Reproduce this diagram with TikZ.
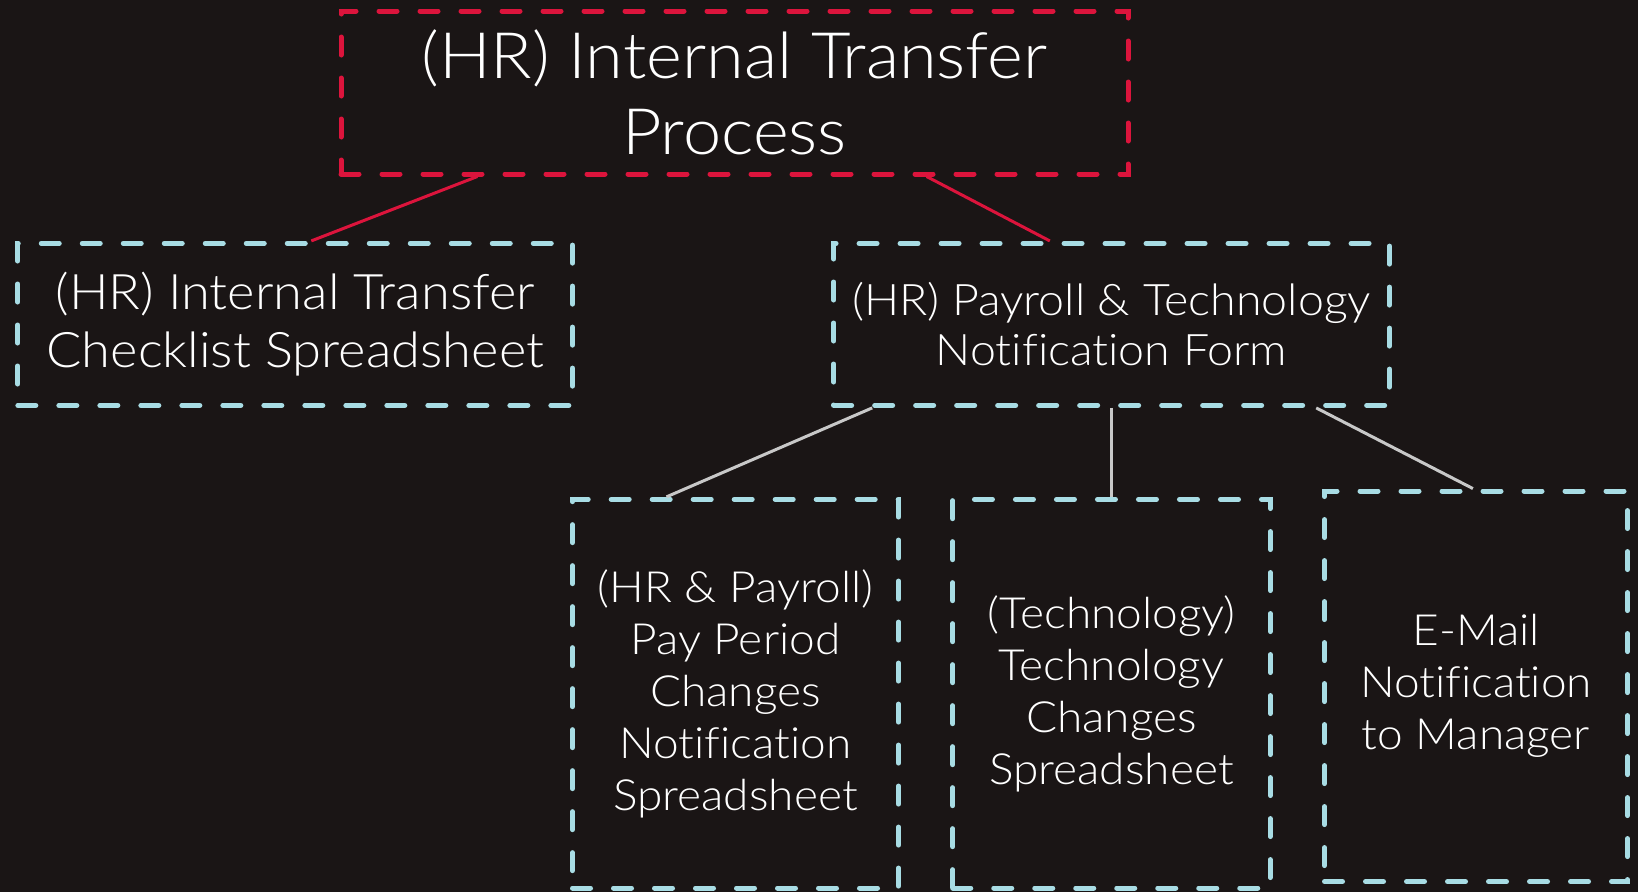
\documentclass[tikz,border=0pt]{standalone}
\usepackage{fontspec}
\setmainfont{Lato Light}[FakeStretch=1.07,Ligatures=NoCommon]
\definecolor{bgc}{RGB}{26,21,21}
\definecolor{redc}{RGB}{220,20,60}
\definecolor{cyanc}{RGB}{168,220,228}
\definecolor{grayc}{RGB}{200,200,200}
\begin{document}
\begin{tikzpicture}[x=1pt,y=-1pt,
  box/.style={draw, line width=5pt, dash pattern=on 18pt off 23pt, line cap=round, text=white, align=center, inner sep=0pt},
  topbox/.style={box, draw=redc, font=\fontsize{64}{76}\selectfont},
  midbox/.style={box, draw=cyanc},
  lowbox/.style={box, draw=cyanc, font=\fontsize{43}{52}\selectfont},
  redlink/.style={draw=redc, line width=3pt},
  graylink/.style={draw=grayc, line width=3pt}]
\fill[bgc] (0,0) rectangle (1638,892);
\useasboundingbox (0,0) rectangle (1638,892);
\node[topbox, minimum width=787pt, minimum height=163pt] (top) at (734.5,92.5) {(HR) Internal Transfer\\Process};
\node[midbox, font=\fontsize{49}{58}\selectfont, minimum width=554.7pt, minimum height=162pt] (left) at (295.2,324.4) {(HR) Internal Transfer\\Checklist Spreadsheet};
\node[midbox, font=\fontsize{43.5}{50}\selectfont, minimum width=555.7pt, minimum height=162pt] (right) at (1111.5,324.4) {(HR) Payroll \& Technology\\Notification Form};
\node[lowbox, minimum width=326pt, minimum height=388.7pt] (pay) at (735.5,693.7) {(HR \& Payroll)\\Pay Period\\Changes\\Notification\\Spreadsheet};
\node[lowbox, minimum width=317.5pt, minimum height=388.7pt] (tech) at (1111.5,693.7) {(Technology)\\Technology\\Changes\\Spreadsheet};
\node[lowbox, minimum width=303pt, minimum height=390.5pt] (mail) at (1476,686.3) {E-Mail\\Notification\\to Manager};
\draw[redlink] ([xshift=-257.1pt]top.south) -- ([xshift=16.1pt]left.north);
\draw[redlink] ([xshift=192.1pt]top.south) -- ([xshift=-61.7pt]right.north);
\draw[graylink] ([xshift=-239.3pt]right.south) -- ([xshift=-69pt]pay.north);
\draw[graylink] (right.south) -- (tech.north);
\draw[graylink] ([xshift=204.7pt]right.south) -- ([xshift=-3.1pt]mail.north);
\end{tikzpicture}
\end{document}
